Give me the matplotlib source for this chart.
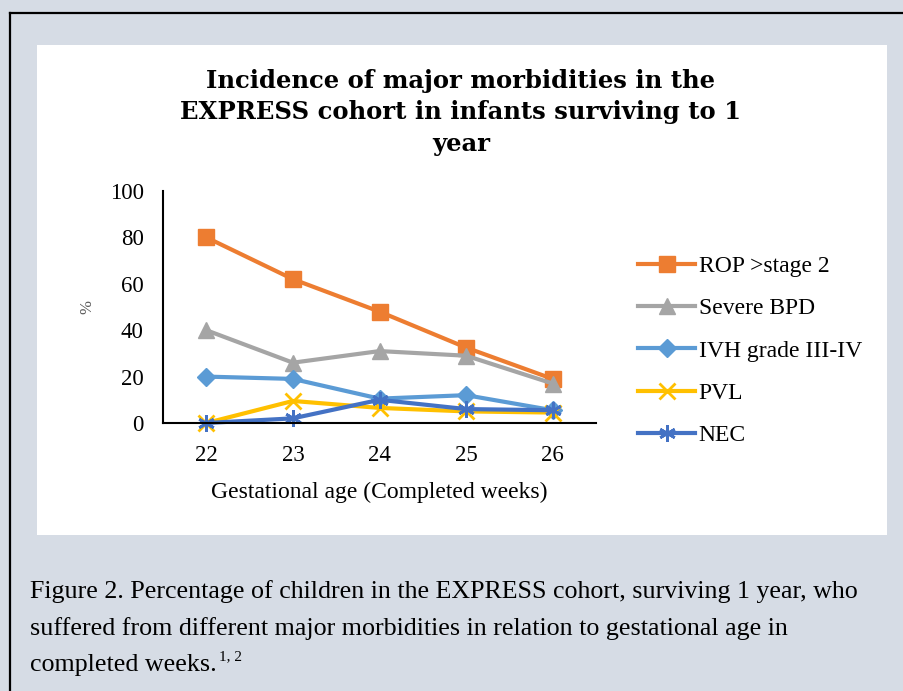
import matplotlib
matplotlib.use("Agg")
import matplotlib.pyplot as plt
from matplotlib.lines import Line2D
from matplotlib.patches import Rectangle

# data
weeks = [22, 23, 24, 25, 26]
rop = [80, 62, 48, 32.5, 19]
bpd = [40, 26, 31, 29, 17]
ivh = [20, 19, 10.5, 12, 5.5]
pvl = [0, 9.5, 6.5, 5, 4.5]
nec = [0, 2, 10, 6, 5.5]

series_names = ["ROP >stage 2", "Severe BPD", "IVH grade III-IV", "PVL", "NEC"]
series_vals = [rop, bpd, ivh, pvl, nec]
colors = ["#ED7D31", "#A5A5A5", "#5B9BD5", "#FFC000", "#4472C4"]
markers = ["s", "^", "D", "x", (6, 2, 0)]
msizes = [11.5, 11.5, 9.5, 11, 12]

W, H = 904, 691
serif = "Liberation Serif"

fig = plt.figure(figsize=(W / 100, H / 100), dpi=100)
fig.patch.set_facecolor("#D6DCE5")


def fx(px):
    return px / W


def fy(py):
    return 1 - py / H


# white chart panel
fig.patches.append(Rectangle((fx(37), fy(535)), fx(887) - fx(37), fy(45) - fy(535),
                             transform=fig.transFigure, facecolor="white",
                             edgecolor="none", zorder=-5))
# black frame (top and left)
fig.lines.append(Line2D([fx(10), 1], [fy(12.5), fy(12.5)], transform=fig.transFigure,
                        color="black", lw=1.6))
fig.lines.append(Line2D([fx(10), fx(10)], [fy(12.5), 0], transform=fig.transFigure,
                        color="black", lw=1.6))

ax = fig.add_axes([fx(163), fy(423), fx(596) - fx(163), fy(191) - fy(423)])
ax.set_facecolor("none")

for name, vals, c, m, ms in zip(series_names, series_vals, colors, markers, msizes):
    mew = 2 if m in ("x", (6, 2, 0)) else 1
    ax.plot(weeks, vals, color=c, lw=3, marker=m, markersize=ms, markeredgewidth=mew,
            markeredgecolor=c, markerfacecolor=c, label=name, clip_on=False)

ax.set_xlim(21.5, 26.5)
ax.set_ylim(0, 100)
ax.set_xticks(weeks)
ax.set_yticks([0, 20, 40, 60, 80, 100])
for s in ["top", "right"]:
    ax.spines[s].set_visible(False)
for s in ["left", "bottom"]:
    ax.spines[s].set_linewidth(1.5)
    ax.spines[s].set_color("black")
ax.tick_params(axis="both", length=0, labelsize=16.5)
ax.tick_params(axis="y", pad=14)
ax.tick_params(axis="x", pad=16)
for lbl in ax.get_xticklabels() + ax.get_yticklabels():
    lbl.set_fontfamily(serif)

ax.set_xlabel("Gestational age (Completed weeks)", fontsize=17, family=serif, labelpad=11)
ax.set_ylabel("%", fontsize=12, family=serif, color="#595959", labelpad=10)

leg = ax.legend(loc="upper left", bbox_to_anchor=(fx(629), fy(246)),
                bbox_transform=fig.transFigure, frameon=False,
                prop={"family": serif, "size": 17}, handlelength=2.4,
                handletextpad=0.15, labelspacing=0.88, borderaxespad=0)

title_lines = ["Incidence of major morbidities in the",
               "EXPRESS cohort in infants surviving to 1",
               "year"]
for i, t in enumerate(title_lines):
    fig.text(fx(461), fy(81 + 31.5 * i), t, ha="center", va="center",
             fontsize=17.5, fontweight="bold", family="DejaVu Serif")

caption = ["Figure 2. Percentage of children in the EXPRESS cohort, surviving 1 year, who",
           "suffered from different major morbidities in relation to gestational age in",
           "completed weeks."]
cap_texts = []
for i, t in enumerate(caption):
    cap_texts.append(fig.text(fx(30), fy(598 + 36.5 * i), t, ha="left", va="baseline",
                              fontsize=18.7, family=serif))

fig.canvas.draw()
bb = cap_texts[-1].get_window_extent()
fig.text(bb.x1 / W + fx(2), fy(660), "1, 2", ha="left", va="baseline",
         fontsize=11, family=serif)

fig.savefig("out.png", dpi=100, facecolor=fig.get_facecolor())
